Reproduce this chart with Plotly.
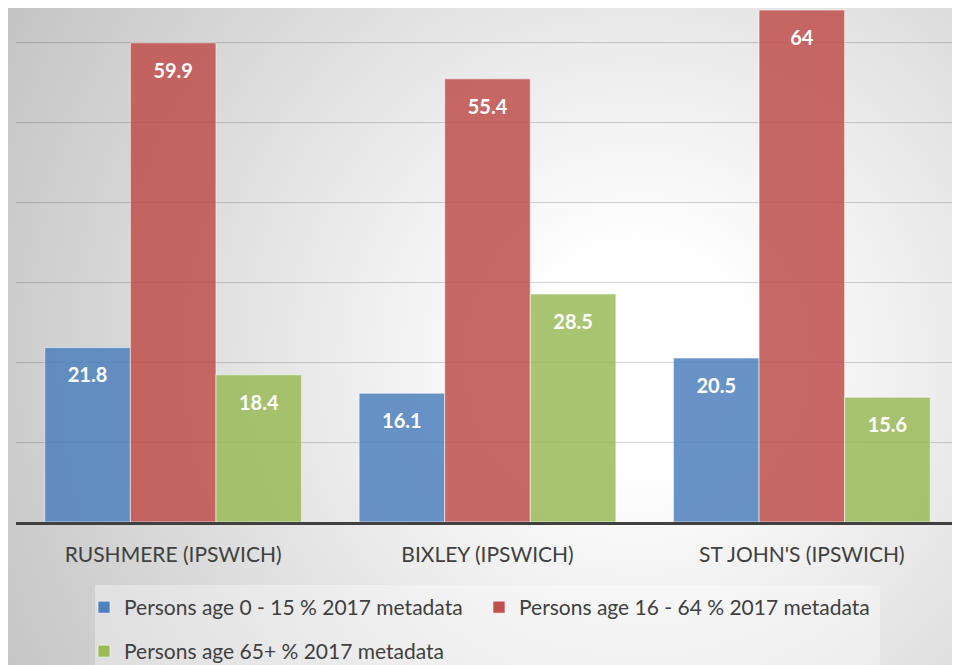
import plotly.graph_objects as go
import urllib.parse

categories = ["RUSHMERE (IPSWICH)", "BIXLEY (IPSWICH)", "ST JOHN'S (IPSWICH)"]
series_names = [
    "Persons age 0 - 15 % 2017 metadata",
    "Persons age 16 - 64 % 2017 metadata",
    "Persons age 65+ % 2017 metadata",
]
age_0_15 = [21.8, 16.1, 20.5]
age_16_64 = [59.9, 55.4, 64]
age_65_plus = [18.4, 28.5, 15.6]

colors = ["#4F81BD", "#C0504D", "#9BBB59"]
FONT = "Lato"

# page has an 8px body margin; size the figure so it fits the 960x665 window
OFF = 8
W, H = 960 - OFF, 665 - OFF
ML, MR, MT, MB = 16 - OFF, 1, 0, 143
PW, PH = W - ML - MR, H - MT - MB


def px_x(page_x):
    return (page_x - OFF - ML) / PW


def px_y(page_y):
    return (PH - (page_y - OFF - MT)) / PH


svg = (
    f"<svg xmlns='http://www.w3.org/2000/svg' width='{W}' height='{H}'>"
    "<defs><radialGradient id='g' gradientUnits='userSpaceOnUse' cx='630' cy='350' r='760'>"
    "<stop offset='0.14' stop-color='#ffffff'/>"
    "<stop offset='1' stop-color='#c0c0c0'/>"
    "</radialGradient></defs>"
    f"<rect width='{W}' height='{H}' fill='url(#g)'/></svg>"
)
bg_src = "data:image/svg+xml;charset=utf-8," + urllib.parse.quote(svg)

fig = go.Figure()
all_series = [age_0_15, age_16_64, age_65_plus]
for i, (name, vals) in enumerate(zip(series_names, all_series)):
    fig.add_trace(go.Bar(
        x=categories, y=vals, name=name,
        marker=dict(color=colors[i], opacity=0.85,
                    line=dict(color="rgba(255,255,255,0.6)", width=1)),
        offsetgroup=str(i),
        legend="legend" if i < 2 else "legend2",
        hoverinfo="skip",
    ))
for i, vals in enumerate(all_series):
    fig.add_trace(go.Scatter(
        x=categories, y=vals, mode="markers+text",
        text=[f"{v:g}" for v in vals],
        textposition="bottom center",
        textfont=dict(family=FONT, size=20, color="white", weight="bold"),
        marker=dict(size=30, opacity=0),
        offsetgroup=str(i), showlegend=False, hoverinfo="skip",
    ))

legend_common = dict(orientation="h", xanchor="left", yanchor="top",
                     bgcolor="rgba(0,0,0,0)", entrywidth=350, entrywidthmode="pixels",
                     font=dict(family=FONT, size=21, color="#404040"))

fig.update_layout(
    width=W, height=H,
    margin=dict(l=ML, r=MR, t=MT, b=MB, pad=0, autoexpand=False),
    barmode="group", bargap=0.183, bargroupgap=0,
    scattermode="group", scattergap=0.183,
    paper_bgcolor="rgba(0,0,0,0)", plot_bgcolor="rgba(0,0,0,0)",
    font=dict(family=FONT, size=21, color="#404040"),
    images=[dict(source=bg_src, xref="paper", yref="paper",
                 x=-ML / PW, y=1 + MT / PH, sizex=W / PW, sizey=H / PH,
                 xanchor="left", yanchor="top", sizing="stretch", layer="below")],
    shapes=[dict(type="rect", xref="paper", yref="paper",
                 x0=px_x(95), x1=px_x(880), y0=px_y(585), y1=px_y(700),
                 fillcolor="rgba(255,255,255,0.35)", line=dict(width=0), layer="below")],
    xaxis=dict(showline=True, linecolor="#404040", linewidth=3,
               ticks="outside", ticklen=12, tickcolor="rgba(0,0,0,0)",
               tickfont=dict(family=FONT, size=21, color="#404040"),
               showgrid=False, zeroline=False, fixedrange=True),
    yaxis=dict(range=[0, PH / 8], dtick=10, showticklabels=False,
               showgrid=True, gridcolor="rgba(0,0,0,0.17)", gridwidth=1,
               zeroline=False, fixedrange=True),
    legend=dict(x=px_x(84), y=px_y(587), **legend_common),
    legend2=dict(x=px_x(84), y=px_y(631), **legend_common),
)

fig.write_html("out.html")
